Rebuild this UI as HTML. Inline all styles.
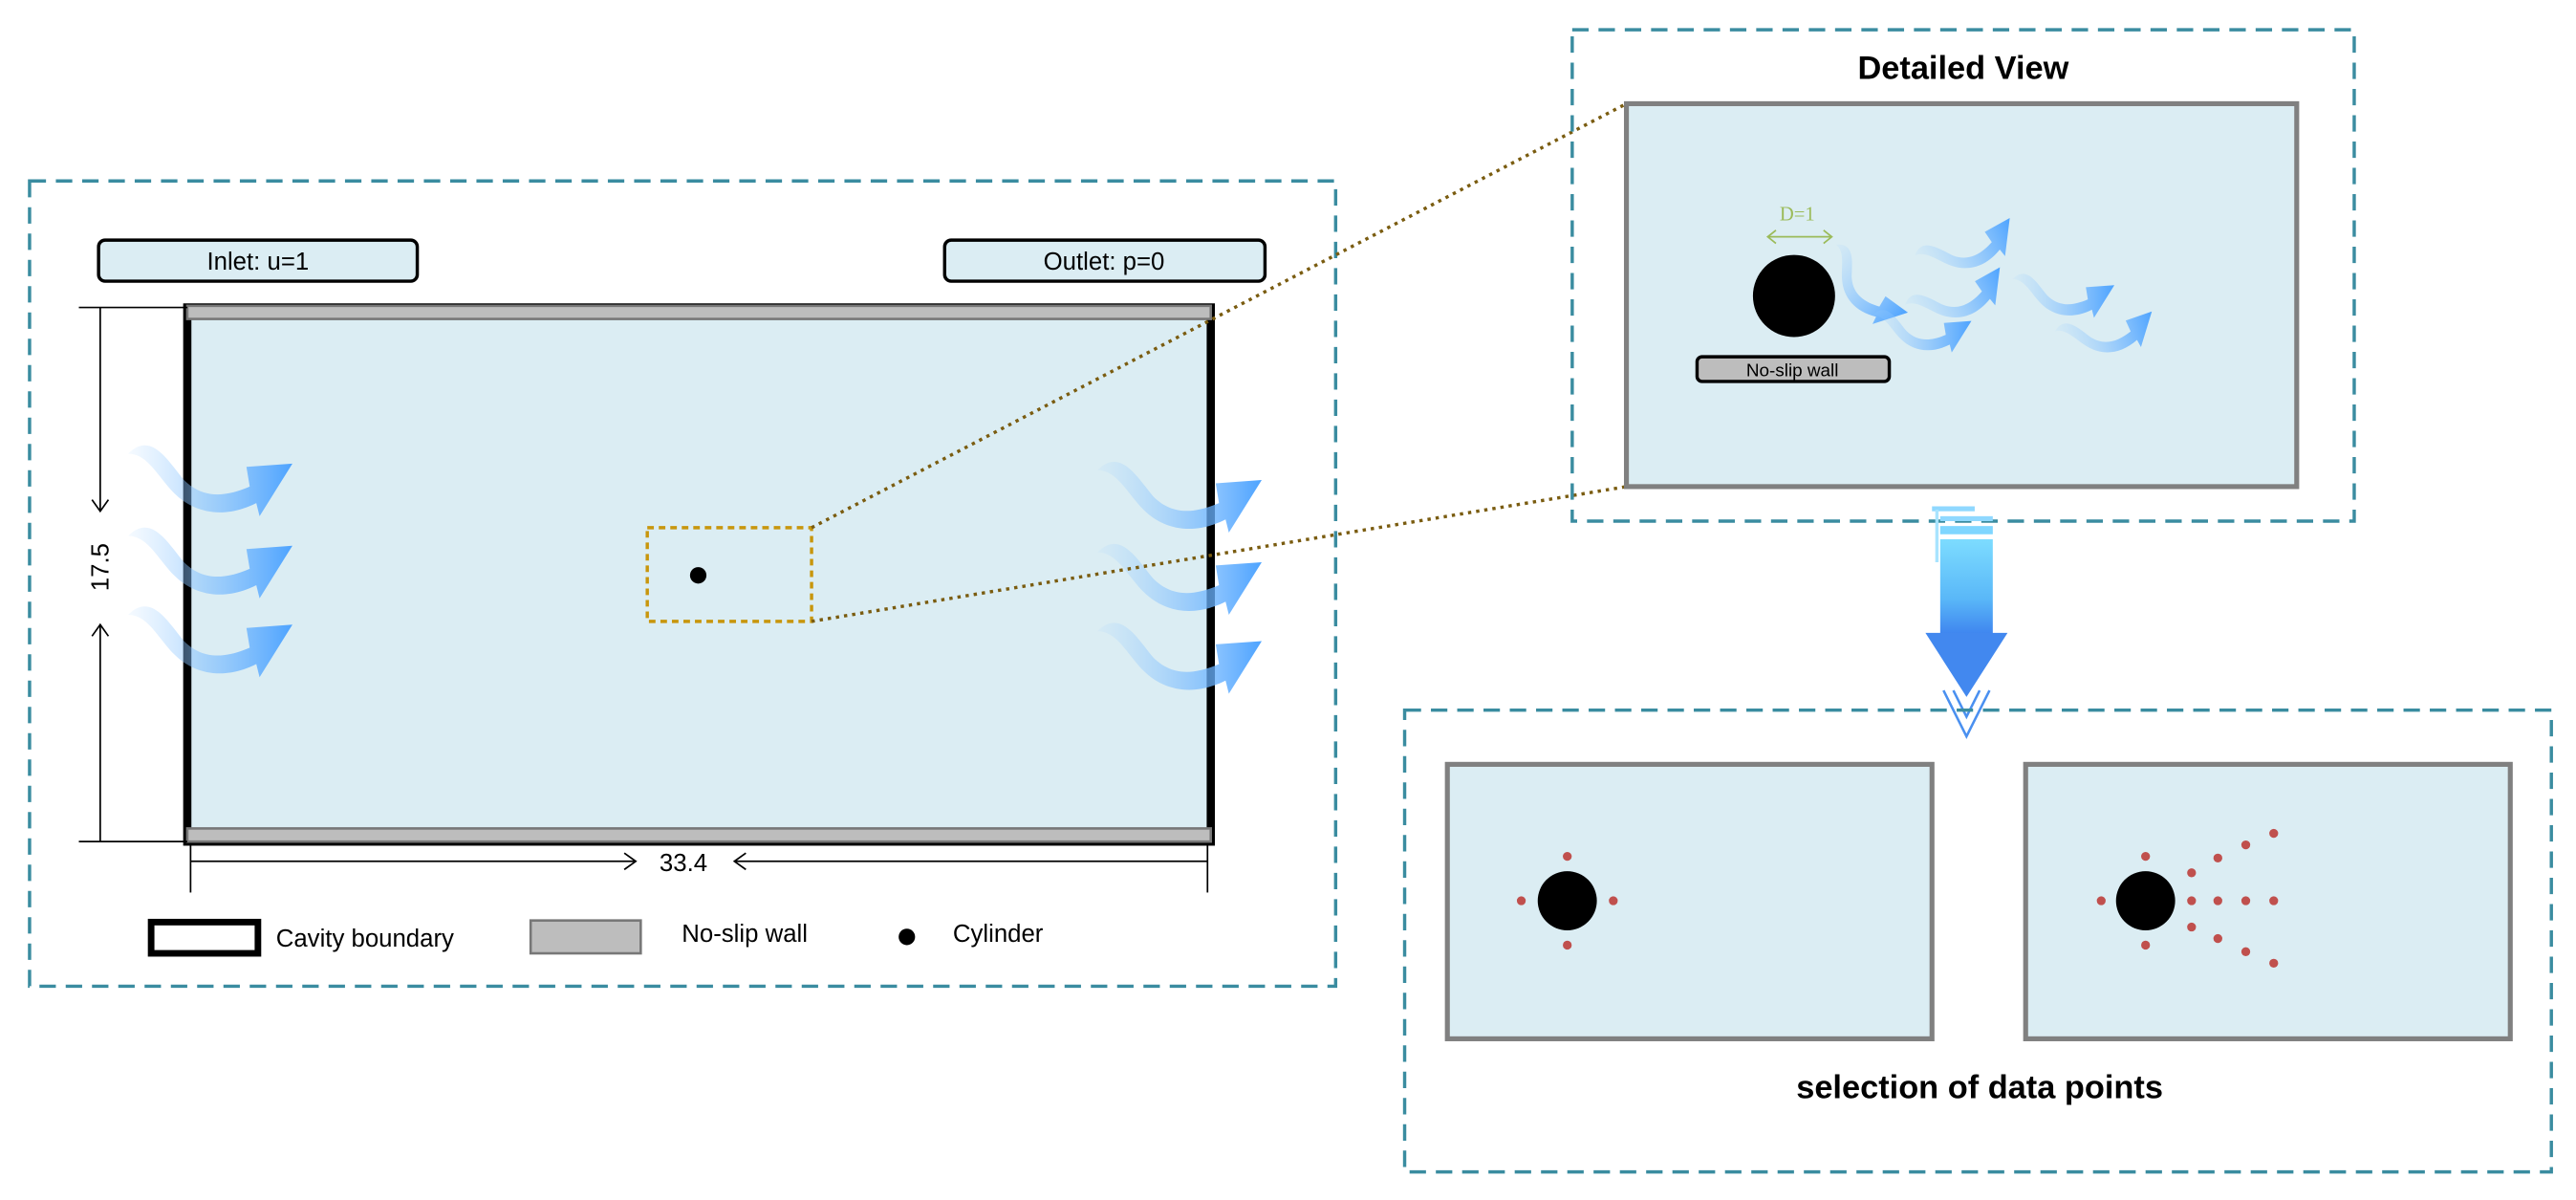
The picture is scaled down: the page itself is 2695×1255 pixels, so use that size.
<!DOCTYPE html>
<html><head><meta charset="utf-8"><style>
html,body{margin:0;padding:0;background:#fff;}
svg{display:block;}
text{font-family:"Liberation Sans Narrow","Liberation Sans",sans-serif;}
</style></head><body>
<svg width="2695" height="1255" viewBox="0 0 1568 730" xmlns="http://www.w3.org/2000/svg">
<defs>
<linearGradient id="fg" x1="0" y1="0" x2="1" y2="0">
<stop offset="0" stop-color="#9fd0ff" stop-opacity="0.1"/>
<stop offset="0.5" stop-color="#7bbcff" stop-opacity="0.6"/>
<stop offset="1" stop-color="#4da3ff" stop-opacity="1"/>
</linearGradient>
<linearGradient id="ag" x1="0" y1="0" x2="0" y2="1">
<stop offset="0" stop-color="#7ddcff"/>
<stop offset="0.6" stop-color="#5ab8f8"/>
<stop offset="1" stop-color="#3c80ee"/>
</linearGradient>
<g id="flow">
<path d="M0,6 C14,-8 24,10 34,22 C46,34 60,32 74,26 L72,14 L100,12 L80,44 L78,36 C58,46 40,42 28,30 C18,20 12,6 0,6 Z" fill="url(#fg)"/>
</g>
</defs>

<rect x="18" y="110" width="795" height="490" fill="none" stroke="#3a8ca0" stroke-width="2" stroke-dasharray="10,6"/>
<rect x="60" y="146" width="194" height="25" rx="4" fill="#dbedf3" stroke="#000" stroke-width="2"/>
<text x="157" y="164" font-size="15" text-anchor="middle">Inlet: u=1</text>
<rect x="575" y="146" width="195" height="25" rx="4" fill="#dbedf3" stroke="#000" stroke-width="2"/>
<text x="672" y="164" font-size="15" text-anchor="middle">Outlet: p=0</text>

<rect x="114" y="187" width="623" height="325" fill="#dbedf3" stroke="#000" stroke-width="5"/>
<rect x="114" y="186" width="623" height="8" fill="#bdbdbd" stroke="#777" stroke-width="1.5"/>
<rect x="114" y="504" width="623" height="8" fill="#bdbdbd" stroke="#777" stroke-width="1.5"/>

<line x1="48" y1="187" x2="114" y2="187" stroke="#000" stroke-width="1"/>
<line x1="48" y1="512" x2="114" y2="512" stroke="#000" stroke-width="1"/>
<line x1="61" y1="187" x2="61" y2="310" stroke="#000" stroke-width="1"/>
<line x1="61" y1="380" x2="61" y2="512" stroke="#000" stroke-width="1"/>
<polyline points="56,304 61,311 66,304" fill="none" stroke="#000" stroke-width="1"/>
<polyline points="56,387 61,380 66,387" fill="none" stroke="#000" stroke-width="1"/>
<text x="0" y="0" font-size="15" transform="translate(66,345) rotate(-90)" text-anchor="middle" style="font-family:'Liberation Sans',sans-serif">17.5</text>
<line x1="116" y1="514" x2="116" y2="543" stroke="#000" stroke-width="1"/>
<line x1="735" y1="514" x2="735" y2="543" stroke="#000" stroke-width="1"/>
<line x1="116" y1="524" x2="386" y2="524" stroke="#000" stroke-width="1"/>
<line x1="448" y1="524" x2="735" y2="524" stroke="#000" stroke-width="1"/>
<polyline points="380,519 387,524 380,529" fill="none" stroke="#000" stroke-width="1"/>
<polyline points="454,519 447,524 454,529" fill="none" stroke="#000" stroke-width="1"/>
<text x="416" y="530" font-size="15" text-anchor="middle">33.4</text>

<use href="#flow" transform="translate(78,270)"/>
<use href="#flow" transform="translate(78,320)"/>
<use href="#flow" transform="translate(78,368)"/>
<use href="#flow" transform="translate(668,280)"/>
<use href="#flow" transform="translate(668,330)"/>
<use href="#flow" transform="translate(668,378)"/>

<rect x="394" y="321" width="100" height="57" fill="none" stroke="#c8960c" stroke-width="2" stroke-dasharray="4,3"/>
<circle cx="425" cy="350" r="5" fill="#000"/>
<line x1="494" y1="321" x2="990" y2="63" stroke="#7a5c10" stroke-width="2" stroke-dasharray="2,3"/>
<line x1="494" y1="378" x2="990" y2="296" stroke="#7a5c10" stroke-width="2" stroke-dasharray="2,3"/>

<rect x="92" y="561" width="65" height="19" fill="#fff" stroke="#000" stroke-width="4"/>
<text x="168" y="576" font-size="15">Cavity boundary</text>
<rect x="323" y="560" width="67" height="20" fill="#bdbdbd" stroke="#777" stroke-width="1.5"/>
<text x="415" y="573" font-size="15">No-slip wall</text>
<circle cx="552" cy="570" r="5" fill="#000"/>
<text x="580" y="573" font-size="15">Cylinder</text>

<rect x="957" y="18" width="476" height="299" fill="none" stroke="#3a8ca0" stroke-width="2" stroke-dasharray="10,6"/>
<text x="1195" y="48" font-size="20" font-weight="bold" text-anchor="middle">Detailed View</text>
<rect x="990" y="63" width="408" height="233" fill="#dbedf3" stroke="#808080" stroke-width="3"/>
<circle cx="1092" cy="180" r="25" fill="#000"/>
<line x1="1076" y1="144" x2="1115" y2="144" stroke="#9bbb59" stroke-width="1"/>
<polyline points="1081,140 1076,144 1081,148" fill="none" stroke="#9bbb59" stroke-width="1"/>
<polyline points="1110,140 1115,144 1110,148" fill="none" stroke="#9bbb59" stroke-width="1"/>
<text x="1094" y="134" font-size="12" fill="#9bbb59" text-anchor="middle" style="font-family:'Liberation Serif',serif">D=1</text>
<rect x="1033" y="217" width="117" height="15" rx="3" fill="#bdbdbd" stroke="#000" stroke-width="2"/>
<text x="1091" y="229" font-size="11" text-anchor="middle">No-slip wall</text>
<g transform="translate(1120,146) rotate(40) scale(0.6)"><use href="#flow"/></g>
<use href="#flow" transform="translate(1140,188) scale(0.6)"/>
<g transform="translate(1158,182) rotate(-25) scale(0.62)"><use href="#flow"/></g>
<g transform="translate(1164,152) rotate(-25) scale(0.62)"><use href="#flow"/></g>
<use href="#flow" transform="translate(1225,166) scale(0.62)"/>
<g transform="translate(1250,198) rotate(-15) scale(0.6)"><use href="#flow"/></g>

<rect x="1176" y="308" width="26" height="3" fill="#8fd8ff"/>
<rect x="1178" y="310" width="2" height="32" fill="#a8e4ff"/>
<rect x="1181" y="314" width="32" height="3" fill="#8fd8ff"/>
<rect x="1181" y="320" width="32" height="5" fill="#7fd6ff"/>
<rect x="1181" y="328" width="32" height="60" fill="url(#ag)"/>
<polygon points="1172,385 1222,385 1197,424" fill="#4288ef"/>
<polyline points="1183,420 1197,448 1211,420" fill="none" stroke="#4a90f0" stroke-width="1.5"/>
<polyline points="1189,420 1197,436 1205,420" fill="none" stroke="#4a90f0" stroke-width="1.5"/>

<rect x="855" y="432" width="698" height="281" fill="none" stroke="#3a8ca0" stroke-width="2" stroke-dasharray="10,6"/>
<rect x="881" y="465" width="295" height="167" fill="#dbedf3" stroke="#808080" stroke-width="3"/>
<rect x="1233" y="465" width="295" height="167" fill="#dbedf3" stroke="#808080" stroke-width="3"/>
<circle cx="954" cy="548" r="18" fill="#000"/>
<g fill="#c0504d">
<circle cx="954" cy="521" r="2.7"/><circle cx="954" cy="575" r="2.7"/>
<circle cx="926" cy="548" r="2.7"/><circle cx="982" cy="548" r="2.7"/>
</g>
<circle cx="1306" cy="548" r="18" fill="#000"/>
<g fill="#c0504d">
<circle cx="1306" cy="521" r="2.7"/><circle cx="1306" cy="575" r="2.7"/>
<circle cx="1279" cy="548" r="2.7"/>
<circle cx="1334" cy="548" r="2.7"/><circle cx="1350" cy="548" r="2.7"/><circle cx="1367" cy="548" r="2.7"/><circle cx="1384" cy="548" r="2.7"/>
<circle cx="1334" cy="531" r="2.7"/><circle cx="1350" cy="522" r="2.7"/><circle cx="1367" cy="514" r="2.7"/><circle cx="1384" cy="507" r="2.7"/>
<circle cx="1334" cy="564" r="2.7"/><circle cx="1350" cy="571" r="2.7"/><circle cx="1367" cy="579" r="2.7"/><circle cx="1384" cy="586" r="2.7"/>
</g>
<text x="1205" y="668" font-size="20" font-weight="bold" text-anchor="middle">selection of data points</text>
</svg>
</body></html>
